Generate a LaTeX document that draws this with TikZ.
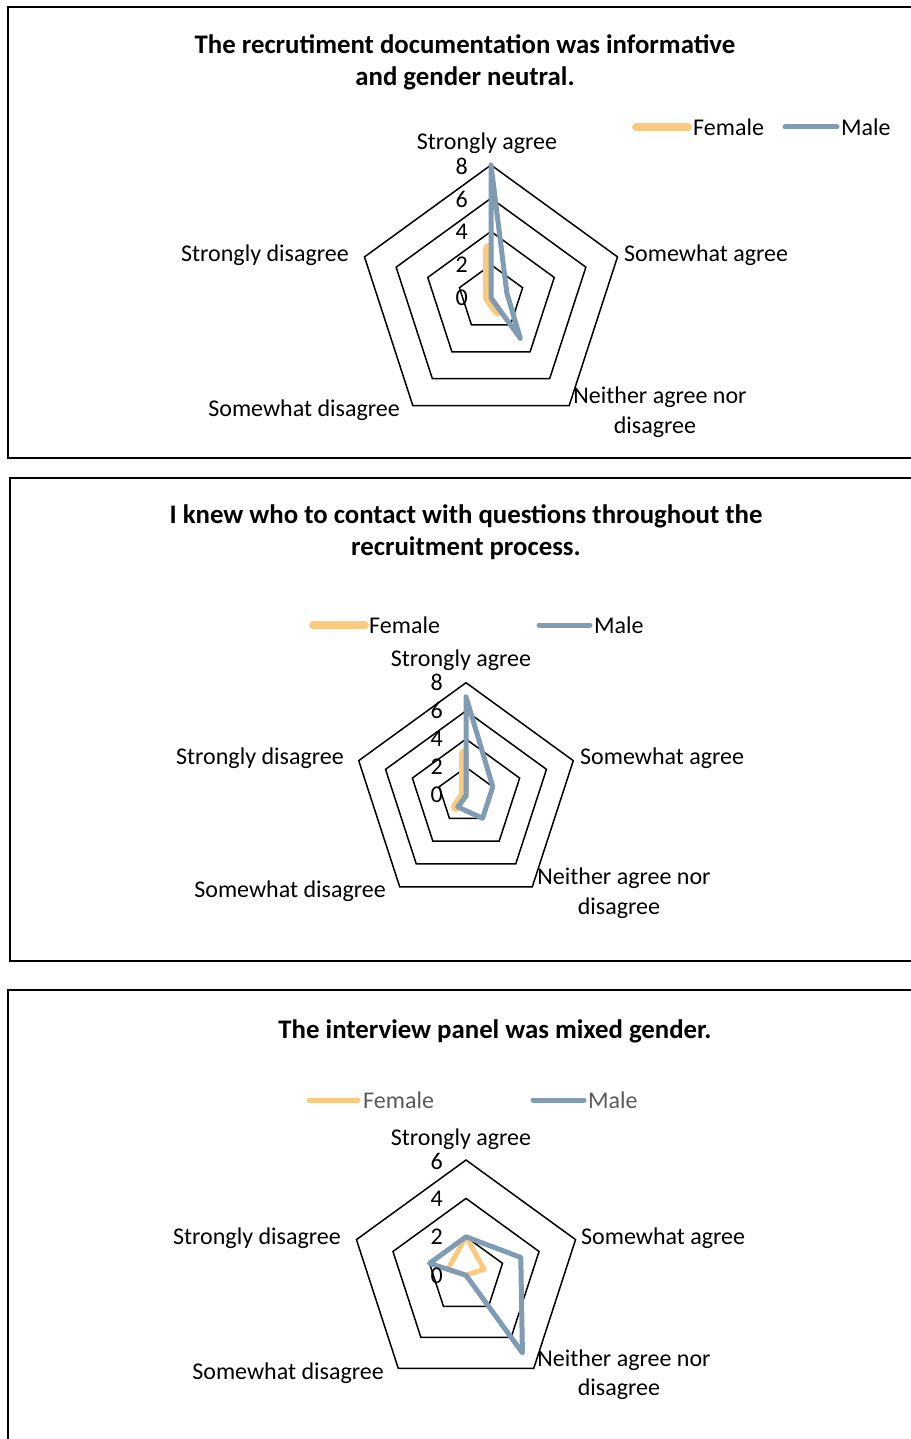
\documentclass[tikz,border=0pt]{standalone}
\usepackage{fontspec}
\setmainfont{Carlito}
\definecolor{femc}{HTML}{FACB7E}
\definecolor{malc}{HTML}{7F9CB4}
\definecolor{leggray}{HTML}{595959}
\newcommand\ringpent[1]{(-90:#1) -- (-18:#1) -- (54:#1) -- (126:#1) -- (198:#1) -- cycle}
\newcommand\datapoly[6]{(-90:{#1*#6}) -- (-18:{#2*#6}) -- (54:{#3*#6}) -- (126:{#4*#6}) -- (198:{#5*#6}) -- cycle}
\begin{document}
\begin{tikzpicture}[x=1pt,y=-1pt,
  ring/.style={draw=black,line width=1.5pt,line join=miter},
  frame/.style={draw=black,line width=1.8pt},
  fem/.style={draw=femc,line width=#1,line join=round,line cap=round},
  mal/.style={draw=malc,line width=#1,line join=round,line cap=round},
  lbl/.style={font=\fontsize{24}{29.5}\selectfont,inner sep=0pt,align=center},
  tick/.style={font=\fontsize{24}{29}\selectfont,inner sep=0pt,anchor=east},
  ttl/.style={font=\bfseries\fontsize{26.8}{32}\selectfont,inner sep=0pt,align=center},
]
\useasboundingbox (0,0) rectangle (910,1439);
% frames
\draw[frame] (925,7) -- (8,7) -- (8,458) -- (925,458);
\draw[frame] (925,478) -- (10,478) -- (10,961) -- (925,961);
\draw[frame] (925,990) -- (8,990) -- (8,1450);

% ===== Chart 1 =====
\node[ttl] (t1) at (465,62) {The recrutiment documentation was informative\\and gender neutral.};
\coordinate (l1a) at (636,127); \coordinate (l1b) at (688,127);
\draw[fem=8pt] (l1a) -- (l1b);
\node[lbl,anchor=west] (l1f) at (693,127) {Female};
\coordinate (l1c) at (785,127); \coordinate (l1d) at (837,127);
\draw[mal=5pt] (l1c) -- (l1d);
\node[lbl,anchor=west] (l1m) at (841,127) {Male};
\coordinate (c1) at (491,298);
\begin{scope}[shift={(c1)}]
  \foreach \r in {33.25,66.5,99.75,133} \draw[ring] \ringpent{\r};
  \begin{scope}[xshift=-3]
  \draw[fem=10pt] \datapoly{3}{0}{1}{0}{0}{16.625};
  \end{scope}
  \draw[mal=5pt] \datapoly{8}{1}{3}{0}{0}{16.625};
\end{scope}
\node[tick] (k10) at (468,298) {0};
\node[tick] (k12) at (468,265) {2};
\node[tick] (k14) at (468,232) {4};
\node[tick] (k16) at (468,199) {6};
\node[tick] (k18) at (468,166) {8};
\node[lbl] (a11) at (487,143) {Strongly agree};
\node[lbl,anchor=west] (a12) at (624,255) {Somewhat agree};
\node[lbl] (a13) at (660,412) {Neither agree nor\\disagree\hspace*{10pt}};
\node[lbl,anchor=east] (a14) at (400,410) {Somewhat disagree};
\node[lbl,anchor=east] (a15) at (349,255) {Strongly disagree};

% ===== Chart 2 =====
\node[ttl] (t2) at (466,532) {I knew who to contact with questions throughout the\\recruitment process.};
\coordinate (l2a) at (313,625); \coordinate (l2b) at (365,625);
\draw[fem=8pt] (l2a) -- (l2b);
\node[lbl,anchor=west] (l2f) at (369,625) {Female};
\coordinate (l2c) at (539,625); \coordinate (l2d) at (590,625);
\draw[mal=5pt] (l2c) -- (l2d);
\node[lbl,anchor=west] (l2m) at (594,625) {Male};
\coordinate (c2) at (466,795.5);
\begin{scope}[shift={(c2)}]
  \foreach \r in {28.2,56.4,84.6,112.8} \draw[ring] \ringpent{\r};
  \begin{scope}[xshift=-2]
  \draw[fem=10pt] \datapoly{3}{0}{0}{1}{0}{14.1};
  \end{scope}
  \draw[mal=5pt] \datapoly{7}{2}{2}{1}{0}{14.1};
\end{scope}
\node[tick] (k20) at (443,795) {0};
\node[tick] (k22) at (443,767) {2};
\node[tick] (k24) at (443,739) {4};
\node[tick] (k26) at (443,710) {6};
\node[tick] (k28) at (443,682) {8};
\node[lbl] (a21) at (461,660) {Strongly agree};
\node[lbl,anchor=west] (a22) at (580,758) {Somewhat agree};
\node[lbl] (a23) at (624,893) {Neither agree nor\\disagree\hspace*{10pt}};
\node[lbl,anchor=east] (a24) at (386,891) {Somewhat disagree};
\node[lbl,anchor=east] (a25) at (344,758) {Strongly disagree};

% ===== Chart 3 =====
\node[ttl] (t3) at (495,1031) {The interview panel was mixed gender.};
\coordinate (l3a) at (309,1100); \coordinate (l3b) at (358,1100);
\draw[fem=5pt] (l3a) -- (l3b);
\node[lbl,anchor=west,text=leggray] (l3f) at (363,1100) {Female};
\coordinate (l3c) at (533,1100); \coordinate (l3d) at (584,1100);
\draw[mal=5pt] (l3c) -- (l3d);
\node[lbl,anchor=west,text=leggray] (l3m) at (588,1100) {Male};
\coordinate (c3) at (466,1275.2);
\begin{scope}[shift={(c3)}]
  \foreach \r in {38.4,76.8,115.2} \draw[ring] \ringpent{\r};
  \draw[fem=5pt] \datapoly{2}{1}{0}{0}{1}{19.2};
  \draw[mal=5pt] \datapoly{2}{3}{5}{0}{2}{19.2};
\end{scope}
\node[tick] (k30) at (443,1276) {0};
\node[tick] (k32) at (443,1237) {2};
\node[tick] (k34) at (443,1199) {4};
\node[tick] (k36) at (443,1161) {6};
\node[lbl] (a31) at (461,1139) {Strongly agree};
\node[lbl,anchor=west] (a32) at (581,1238) {Somewhat agree};
\node[lbl] (a33) at (624,1374.5) {Neither agree nor\\disagree\hspace*{10pt}};
\node[lbl,anchor=east] (a34) at (384,1373) {Somewhat disagree};
\node[lbl,anchor=east] (a35) at (341,1238) {Strongly disagree};
\end{tikzpicture}
\end{document}
